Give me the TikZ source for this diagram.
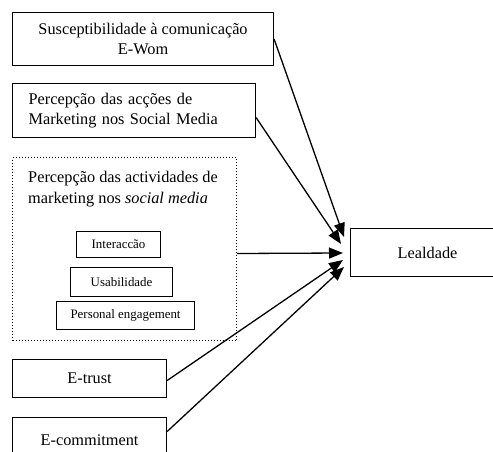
\documentclass[tikz,border=0pt]{standalone}
\usepackage{fontspec}
\setmainfont{Liberation Serif}
\usetikzlibrary{arrows.meta,calc}
\begin{document}
\begin{tikzpicture}[x=1pt,y=-1pt,
  box/.style={draw,line width=1.1pt,inner sep=0pt,anchor=north west,font=\fontsize{16.3}{20.5}\selectfont},
  smallbox/.style={draw,line width=1.1pt,inner sep=0pt,anchor=north west,font=\fontsize{12.9}{15}\selectfont},
  grpbox/.style={draw,dotted,line width=1pt,inner sep=0pt,anchor=north west},
  lbl/.style={inner sep=0pt,anchor=base west,font=\fontsize{16.3}{20.5}\selectfont},
  conn/.style={line width=1.3pt,-{Triangle[length=14pt,width=11pt]}}]
\useasboundingbox (0,0) rectangle (493,452);
% boxes
\node[box,minimum width=261pt,minimum height=53pt,align=center] (b1) at (12,12)
  {Susceptibilidade à comunicação\\E-Wom};
\node[box,text width=211pt,inner xsep=16pt,minimum height=54pt,align=left] (b2) at (12,83)
  {Percepção das acções de\\Marketing nos Social Media};
\node[grpbox,minimum width=224pt,minimum height=183pt] (grp) at (12,157) {};
\node[lbl] (gt1) at (28,182) {Percepção das actividades de};
\node[lbl] (gt2) at (28,203) {marketing nos \textit{social media}};
\node[smallbox,minimum width=84pt,minimum height=26pt] (s1) at (76,231) {Interaccão};
\node[smallbox,minimum width=102pt,minimum height=29pt] (s2) at (70,267) {Usabilidade};
\node[smallbox,minimum width=138pt,minimum height=28pt] (s3) at (56,301) {Personal engagement};
\node[box,minimum width=154pt,minimum height=38pt] (b4) at (12,359) {E-trust};
\node[box,minimum width=154pt,minimum height=45pt] (b5) at (12,417) {E-commitment};
\node[box,minimum width=154pt,minimum height=48pt] (L) at (350,228) {Lealdade};
% arrow ends
\coordinate (t1) at (344,237);
\coordinate (t2) at (341,244);
\coordinate (t3) at (343,253);
\coordinate (t4) at (343,260);
\coordinate (t5) at (344,267);
% connectors
\draw[conn] (b1.east) -- (t1);
\draw[conn] ([yshift=-7pt]b2.east) -- (t2);
\draw[conn] ([yshift=-4.5pt]grp.east) -- (t3);
\draw[conn] ([yshift=-2pt]b4.east) -- (t4);
\draw[conn] ([yshift=8.5pt]b5.east) -- (t5);
\end{tikzpicture}
\end{document}
